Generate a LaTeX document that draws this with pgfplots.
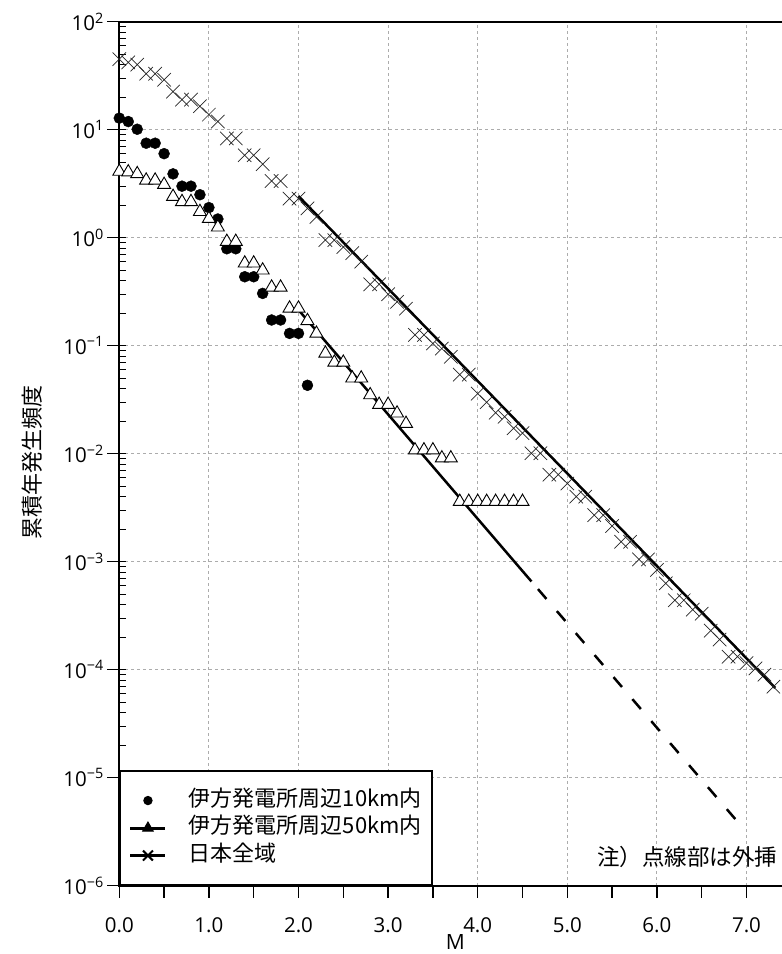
\documentclass[border=0pt]{standalone}
\usepackage{fontspec}
\setmainfont{Open Sans}
\newfontfamily\jp{Noto Sans CJK JP}
\usepackage{pgfplots}
\pgfplotsset{compat=1.18}
\begin{document}
\begin{tikzpicture}
\begin{axis}[
  at={(0pt,0pt)}, anchor=south west,
  scale only axis, width=672pt, height=864pt,
  xmin=0, xmax=7.5,
  ymode=log, ymin=1e-6, ymax=1e2,
  axis line style={line width=1.6pt},
  xtick pos=bottom, ytick pos=left,
  tick align=outside,
  major tick length=12pt, minor tick length=7pt,
  every tick/.append style={black, line width=1.4pt},
  every minor y tick/.append style={xshift=7pt, line width=1.1pt},
  xtick={0,1,2,3,4,5,6,7},
  xticklabels={0.0,1.0,2.0,3.0,4.0,5.0,6.0,7.0},
  extra x ticks={0.5,1.5,2.5,3.5,4.5,5.5,6.5},
  extra x tick labels={},
  extra x tick style={grid=none},
  ytick={1e-6,1e-5,1e-4,1e-3,1e-2,1e-1,1,1e1,1e2},
  yticklabels={10\textsuperscript{−6},10\textsuperscript{−5},10\textsuperscript{−4},10\textsuperscript{−3},10\textsuperscript{−2},10\textsuperscript{−1},10\textsuperscript{0},10\textsuperscript{1},10\textsuperscript{2}},
  tick label style={font=\fontsize{20.5}{24}\selectfont},
  xticklabel style={yshift=-16pt},
  xmajorgrids, ymajorgrids,
  major grid style={gray!65, dash pattern=on 3pt off 3pt, line width=0.9pt},
  xlabel={M},
  xlabel style={at={(axis description cs:0.5,-0.0735)}, anchor=base, inner sep=0pt, font=\fontsize{21}{24}\selectfont},
  ylabel={\jp 累積年発生頻度},
  ylabel style={at={(axis description cs:-0.1295,0.49)}, anchor=center, font=\fontsize{22}{26}\selectfont},
  legend image code/.code={\path (0pt,0pt) (56pt,0pt); \draw[mark repeat=2, mark phase=2, #1] plot coordinates {(0pt,0pt) (17.5pt,0pt) (35pt,0pt)};},
  legend cell align=left,
  legend style={at={(0,0)}, anchor=south west, draw=black, line width=1.3pt, fill=white,
    font=\jp\fontsize{22}{26}\selectfont, inner xsep=9pt, inner ysep=17pt, row sep=2.5pt,
    nodes={inner sep=1pt, text height=17pt, text depth=6pt}},
]
\addlegendimage{legend image code/.code={\path (0pt,0pt) (56pt,0pt); \fill[black] (17.5pt,0pt) circle (4pt);}}
\addlegendentry{伊方発電所周辺10km内}
\addlegendimage{black, line width=3pt, mark=triangle*, mark size=6pt, mark options={fill=black, line width=1pt}}
\addlegendentry{伊方発電所周辺50km内}
\addlegendimage{black, line width=3pt, mark=x, mark size=7pt, mark options={line width=2pt}}
\addlegendentry{日本全域}

% 10 km (filled circles)
\addplot[forget plot, only marks, mark=*, mark size=5.5pt, black] coordinates {
(0.0,12.8)(0.1,11.9)(0.2,10.1)(0.3,7.5)(0.4,7.5)(0.5,6.0)(0.6,3.9)(0.7,3.0)(0.8,3.0)(0.9,2.5)
(1.0,1.9)(1.1,1.49)(1.2,0.79)(1.3,0.79)(1.4,0.435)(1.5,0.435)(1.6,0.305)(1.7,0.173)(1.8,0.173)
(1.9,0.130)(2.0,0.130)(2.1,0.043)};

% 50 km (open triangles)
\addplot[forget plot, only marks, mark=triangle*, mark size=7.5pt, black, mark options={fill=white, line width=0.9pt}] coordinates {
(0.0,4.1)(0.1,4.05)(0.2,3.9)(0.3,3.4)(0.4,3.4)(0.5,3.1)(0.6,2.4)(0.7,2.15)(0.8,2.15)(0.9,1.74)
(1.0,1.5)(1.1,1.25)(1.2,0.92)(1.3,0.92)(1.4,0.58)(1.5,0.58)(1.6,0.50)(1.7,0.347)(1.8,0.347)
(1.9,0.222)(2.0,0.222)(2.1,0.170)(2.2,0.130)(2.3,0.085)(2.4,0.070)(2.5,0.070)(2.6,0.050)(2.7,0.050)
(2.8,0.035)(2.9,0.0285)(3.0,0.0285)(3.1,0.0237)(3.2,0.0190)(3.3,0.0108)(3.4,0.0108)(3.5,0.0108)
(3.6,0.0091)(3.7,0.0091)(3.8,0.0036)(3.9,0.0036)(4.0,0.0036)(4.1,0.0036)(4.2,0.0036)(4.3,0.0036)
(4.4,0.0036)(4.5,0.0036)};

% Japan (crosses)
\addplot[forget plot, only marks, mark=x, mark size=9.5pt, mark options={line width=0.7pt, black!85}] coordinates {
(0.0,45)(0.1,42)(0.2,40)(0.3,33)(0.4,33)(0.5,29)(0.6,22.5)(0.7,19)(0.8,19)(0.9,16.5)
(1.0,13.8)(1.1,11.9)(1.2,8.3)(1.3,8.3)(1.4,5.8)(1.5,5.8)(1.6,4.8)(1.7,3.35)(1.8,3.35)(1.9,2.3)
(2.0,2.3)(2.1,1.87)(2.2,1.56)(2.3,0.95)(2.4,0.95)(2.5,0.82)(2.6,0.72)(2.7,0.60)(2.8,0.37)(2.9,0.37)
(3.0,0.30)(3.1,0.255)(3.2,0.22)(3.3,0.126)(3.4,0.126)(3.5,0.105)(3.6,0.094)(3.7,0.079)(3.8,0.054)(3.9,0.054)
(4.0,0.036)(4.1,0.030)(4.2,0.024)(4.3,0.022)(4.4,0.0172)(4.5,0.0155)(4.6,0.0101)(4.7,0.0101)(4.8,0.0064)(4.9,0.0064)
(5.0,0.0053)(5.1,0.0040)(5.2,0.0040)(5.3,0.0027)(5.4,0.0027)(5.5,0.00214)(5.6,0.00153)(5.7,0.00153)(5.8,0.00105)(5.9,0.00105)
(6.0,0.00084)(6.1,0.00063)(6.2,0.00044)(6.3,0.00044)(6.4,0.00036)(6.5,0.00033)(6.6,0.00023)(6.7,0.00019)(6.8,0.000132)(6.9,0.000132)
(7.0,0.000115)(7.1,0.000103)(7.2,0.000090)(7.3,0.0000697)};

% fitted lines
\addplot[forget plot, black, line width=2.5pt] coordinates {(2.0,0.2143)(4.6,6.56e-4)};
\addplot[forget plot, black, line width=2.5pt, dash pattern=on 13pt off 16pt, dash phase=19pt] coordinates {(4.6,6.56e-4)(6.91,3.83e-6)};
\addplot[forget plot, black, line width=2.5pt] coordinates {(2.0,2.427)(7.32,6.78e-5)};

\node[anchor=west, inner sep=0pt, font=\jp\fontsize{22.5}{26}\selectfont] at (axis cs:5.33,1.85e-6) {注）点線部は外挿};
\end{axis}
\pgfresetboundingbox
\path[use as bounding box] (-119.3pt,-68.3pt) rectangle (662.7pt,885.7pt);
\end{tikzpicture}
\end{document}
